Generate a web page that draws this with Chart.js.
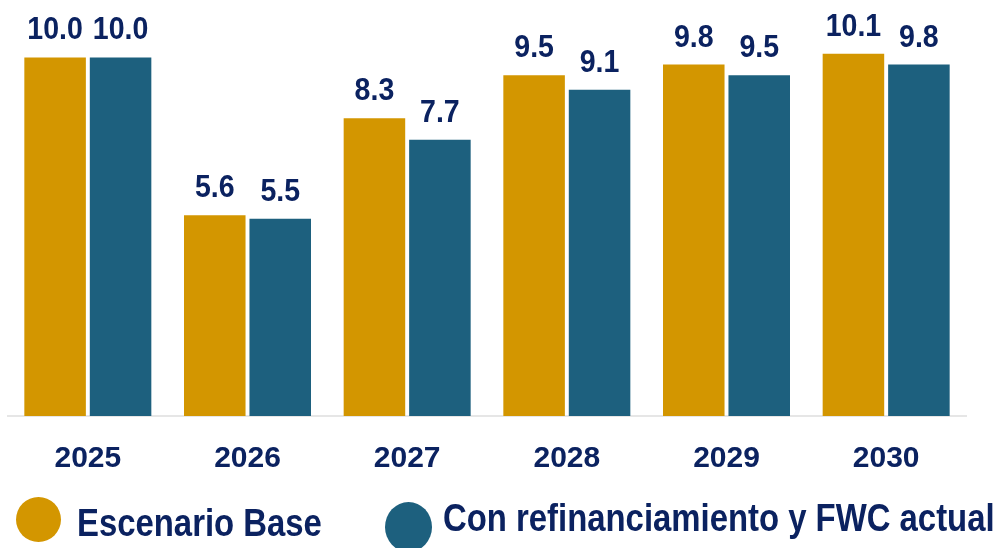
<!DOCTYPE html>
<html>
<head>
<meta charset="utf-8">
<script src="https://cdn.jsdelivr.net/npm/chart.js@4"></script>
<style>
  html, body { margin: 0; padding: 0; background: #fff; }
  #wrap { position: relative; width: 999px; height: 548px; overflow: hidden; font-family: 'Liberation Sans', Arial, sans-serif; }
  #legend .dot { position: absolute; border-radius: 50%; }
  #legend .txt { position: absolute; font-size: 38px; line-height: 38px; font-weight: bold; color: #0b2260; white-space: nowrap; transform: scaleX(0.865); transform-origin: left center; }
</style>
</head>
<body>
<div id="wrap">
  <canvas id="myChart" width="999" height="548"></canvas>
  <div id="legend"></div>
</div>
<script>
const years = ['2025', '2026', '2027', '2028', '2029', '2030'];
const escenarioBase = [10.0, 5.6, 8.3, 9.5, 9.8, 10.1];
const conRefinanciamiento = [10.0, 5.5, 7.7, 9.1, 9.5, 9.8];
const seriesNames = ['Escenario Base', 'Con refinanciamiento y FWC actual'];
const seriesColors = ['#d39600', '#1d607e'];

const navy = '#0b2260';
const fontFamily = "'Liberation Sans', Arial, sans-serif";

// etiquetas encima de cada barra
const valueLabels = {
  id: 'valueLabels',
  afterDatasetsDraw(chart) {
    const ctx = chart.ctx;
    ctx.save();
    ctx.fillStyle = navy;
    ctx.font = 'bold 31px ' + fontFamily;
    ctx.textAlign = 'center';
    ctx.textBaseline = 'alphabetic';
    chart.data.datasets.forEach((ds, i) => {
      chart.getDatasetMeta(i).data.forEach((bar, j) => {
        ctx.save();
        ctx.translate(bar.x, bar.y - 18);
        ctx.scale(0.92, 1);
        ctx.fillText(ds.data[j].toFixed(1), 0, 0);
        ctx.restore();
      });
    });
    ctx.restore();
  }
};

const ctx = document.getElementById('myChart').getContext('2d');
const myChart = new Chart(ctx, {
  type: 'bar',
  data: {
    labels: years,
    datasets: [
      { label: seriesNames[0], data: escenarioBase, backgroundColor: seriesColors[0], borderWidth: 0 },
      { label: seriesNames[1], data: conRefinanciamiento, backgroundColor: seriesColors[1], borderWidth: 0 },
    ],
  },
  options: {
    responsive: false,
    animation: false,
    categoryPercentage: 0.82,
    barPercentage: 0.94,
    layout: { padding: { left: 8, right: 33, top: 0, bottom: 46 } },
    plugins: {
      legend: { display: false },
      tooltip: { enabled: false },
    },
    scales: {
      x: {
        grid: { display: false, drawTicks: false },
        border: { display: true, color: '#e6e6e6', width: 2 },
        ticks: {
          color: navy,
          padding: 25,
          font: { family: fontFamily, size: 30, weight: 'bold' },
        },
      },
      y: {
        display: false,
        min: 0,
        max: 11.6,
      },
    },
  },
  plugins: [valueLabels],
});

// leyenda inferior
const legendPos = [
  { dot: [16, 497, 45, 45], txt: [77, 504] },
  { dot: [385, 502, 47, 50], txt: [443, 499] },
];
const legend = document.getElementById('legend');
myChart.data.datasets.forEach((ds, i) => {
  const p = legendPos[i];
  const dot = document.createElement('div');
  dot.className = 'dot';
  dot.style.cssText = `left:${p.dot[0]}px;top:${p.dot[1]}px;width:${p.dot[2]}px;height:${p.dot[3]}px;background:${ds.backgroundColor}`;
  const txt = document.createElement('div');
  txt.className = 'txt';
  txt.style.left = p.txt[0] + 'px';
  txt.style.top = p.txt[1] + 'px';
  txt.textContent = ds.label;
  legend.appendChild(dot);
  legend.appendChild(txt);
});
</script>
</body>
</html>
